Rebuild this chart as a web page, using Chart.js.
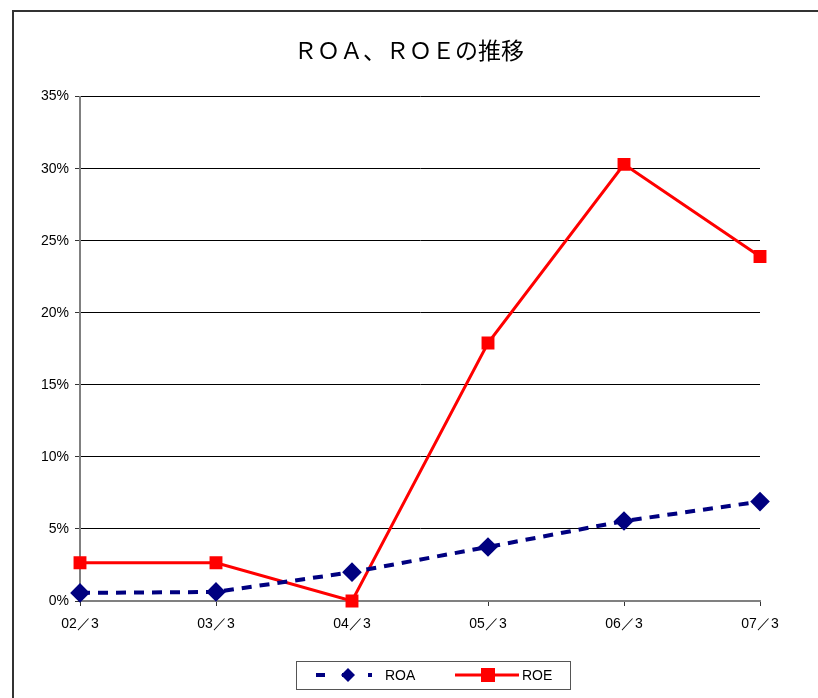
<!DOCTYPE html>
<html>
<head>
<meta charset="utf-8">
<script src="https://cdn.jsdelivr.net/npm/chart.js@4"></script>
<style>
  html, body { margin: 0; padding: 0; background: #fff; }
  #frame { position: absolute; left: 12px; top: 10px; width: 900px; height: 800px; border: 2px solid #333; box-sizing: border-box; }
  #wrap { position: absolute; left: 0; top: 0; width: 818px; height: 698px; }
</style>
</head>
<body>
<div id="frame"></div>
<div id="wrap"><canvas id="chart"></canvas></div>
<script>
var labels = ['02／3', '03／3', '04／3', '05／3', '06／3', '07／3'];
var roa = [0.56, 0.63, 2.0, 3.75, 5.55, 6.9];
var roe = [2.65, 2.65, 0.0, 17.9, 30.3, 23.9];

var tickFont = { family: 'Liberation Sans, Arial, sans-serif', size: 14 };

// legend drawn inside a bordered box at the bottom
var boxLegend = {
    id: 'boxLegend',
    afterDraw: function (chart) {
        var c = chart.ctx;
        var x0 = 296, y0 = 661, w = 274, h = 28, cy = y0 + h / 2;
        c.save();
        c.strokeStyle = '#555';
        c.lineWidth = 1;
        c.strokeRect(x0 + 0.5, y0 + 0.5, w, h);

        var ds = chart.data.datasets;
        // ROA
        c.strokeStyle = ds[0].borderColor;
        c.lineWidth = 4;
        c.setLineDash([9, 17]);
        c.beginPath();
        c.moveTo(316, cy);
        c.lineTo(372, cy);
        c.stroke();
        c.setLineDash([]);
        c.fillStyle = ds[0].pointBackgroundColor;
        c.beginPath();
        c.moveTo(348, cy - 7);
        c.lineTo(355, cy);
        c.lineTo(348, cy + 7);
        c.lineTo(341, cy);
        c.closePath();
        c.fill();
        // ROE
        c.strokeStyle = ds[1].borderColor;
        c.lineWidth = 3;
        c.beginPath();
        c.moveTo(455, cy);
        c.lineTo(519, cy);
        c.stroke();
        c.fillStyle = ds[1].pointBackgroundColor;
        c.fillRect(481, cy - 7, 14, 14);

        c.fillStyle = '#000';
        c.font = '14px Liberation Sans, Arial, sans-serif';
        c.textBaseline = 'middle';
        c.fillText(ds[0].label, 385, cy + 1);
        c.fillText(ds[1].label, 522, cy + 1);
        c.restore();
    }
};

new Chart(document.getElementById('chart'), {
    type: 'line',
    data: {
        labels: labels,
        datasets: [{
            label: 'ROA',
            data: roa,
            borderColor: '#000080',
            borderWidth: 4,
            borderDash: [10, 8],
            pointStyle: 'rectRot',
            pointRadius: 7,
            pointBackgroundColor: '#000080',
            pointBorderColor: '#000080',
            tension: 0
        }, {
            label: 'ROE',
            data: roe,
            borderColor: '#ff0000',
            borderWidth: 3,
            pointStyle: 'rect',
            pointRadius: 7,
            pointBackgroundColor: '#ff0000',
            pointBorderColor: '#ff0000',
            tension: 0
        }]
    },
    options: {
        responsive: true,
        maintainAspectRatio: false,
        animation: false,
        clip: false,
        layout: { padding: { top: 0, left: 0, right: 0, bottom: 57 } },
        plugins: {
            legend: { display: false },
            tooltip: { enabled: false },
            title: {
                display: true,
                text: 'ＲＯＡ、ＲＯＥの推移',
                color: '#000',
                font: { family: 'Noto Sans CJK JP', size: 23, weight: 'normal' },
                padding: { top: 36, bottom: 33 }
            }
        },
        scales: {
            x: {
                offset: false,
                grid: { drawOnChartArea: false, drawTicks: true, tickLength: 5, color: '#333' },
                border: { color: '#808080', width: 2 },
                ticks: { color: '#000', font: tickFont, padding: 10, maxRotation: 0 },
                afterFit: function (s) { s.height = 40; }
            },
            y: {
                min: 0,
                max: 35,
                grid: { color: '#000', lineWidth: 1, tickLength: 5, tickColor: '#333' },
                border: { color: '#808080', width: 2 },
                ticks: {
                    stepSize: 5,
                    color: '#000',
                    font: tickFont,
                    padding: 6,
                    callback: function (v) { return v + '%'; }
                },
                afterFit: function (s) { s.width = 80; }
            },
            // empty right-hand margin so the title centres on the whole frame
            yRight: {
                position: 'right',
                min: 0,
                max: 35,
                grid: { display: false },
                border: { display: false },
                ticks: { display: false },
                afterFit: function (s) { s.width = 58; }
            }
        }
    },
    plugins: [boxLegend]
});
</script>
</body>
</html>
